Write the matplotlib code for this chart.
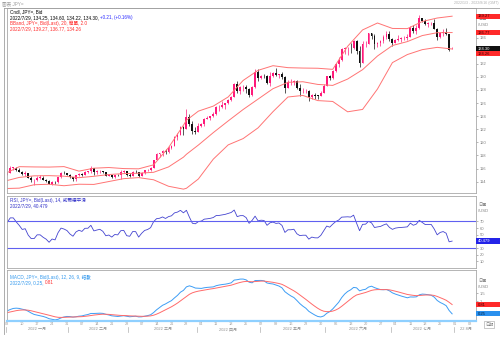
import matplotlib
matplotlib.use("Agg")
import matplotlib.pyplot as plt
from matplotlib.lines import Line2D
from matplotlib.patches import Rectangle
from matplotlib.transforms import blended_transform_factory
import pandas as pd

plt.rcParams["font.family"] = ["Liberation Sans", "Noto Sans CJK TC"]

W, H = 500, 340

# daily candles, 2022-01-03 .. 2022-07-29 (JPY= bid)
dates = pd.bdate_range("2022-01-03", "2022-07-29")
axis_days = pd.bdate_range("2022-01-03", "2022-08-12")

opens = [
    115.08, 115.30, 116.13, 116.13, 115.83, 115.55, 115.19, 115.28, 114.63, 114.18,
    114.19, 114.59, 114.59, 114.32, 114.09, 113.68, 113.99, 113.88, 114.67, 115.35, 115.25,
    115.08, 114.68, 114.41, 114.96, 115.22, 115.08, 115.55, 115.56, 116.03,
    115.43, 115.56, 115.66, 115.45, 114.92, 115.01, 114.76, 115.06, 115.01, 115.52, 115.57,
    114.98, 114.91, 115.48, 115.47, 114.83, 115.30, 115.71, 115.85, 116.14,
    117.31, 118.18, 118.31, 118.74, 118.58, 119.19, 119.48, 120.76, 121.20, 122.34,
    122.05, 123.85, 122.84, 121.77,
    121.66, 122.52, 122.75, 123.60, 123.76, 123.97, 124.31, 125.35, 125.38, 125.64, 125.94,
    126.43, 126.98, 128.89, 127.88, 128.43, 128.46, 128.16, 127.23, 128.40, 130.81,
    129.82, 130.17, 130.12, 129.09, 130.21, 130.56, 130.28, 130.44, 129.96, 128.32,
    129.18, 129.20, 129.36, 128.27, 127.77, 127.87, 127.87, 126.86, 127.31, 127.13, 127.11, 127.61,
    128.68, 130.09, 129.86, 130.88, 131.92, 132.62, 134.25, 134.37, 134.42, 134.38,
    135.46, 133.99, 132.19, 134.99, 135.05, 136.65, 136.25, 134.95, 135.22, 135.45, 136.11, 136.61,
    135.73, 135.21, 135.69, 135.86, 135.92, 136.01, 136.11, 137.41, 137.01, 137.40,
    138.97, 138.56, 138.15, 138.19, 138.19, 137.37, 136.06, 136.69, 136.93, 136.56, 134.25,
]
highs = [
    115.41, 116.35, 116.27, 116.20, 116.04, 115.69, 115.56, 115.38, 114.79, 114.36,
    114.80, 115.06, 114.85, 114.47, 114.18, 114.06, 114.12, 114.70, 115.49, 115.69, 115.40,
    115.20, 114.78, 115.02, 115.40, 115.32, 115.69, 115.70, 116.34, 116.10,
    115.76, 115.80, 115.70, 115.53, 115.14, 115.05, 115.08, 115.20, 115.74, 115.78, 115.62,
    115.26, 115.57, 115.81, 115.50, 115.48, 115.80, 116.01, 116.22, 117.36,
    118.40, 118.45, 118.89, 118.95, 119.41, 119.53, 120.99, 121.41, 122.44, 122.44,
    125.09, 124.31, 123.21, 122.42,
    122.92, 122.94, 123.66, 124.05, 124.08, 124.68, 125.48, 125.77, 126.32, 126.00, 126.68,
    127.06, 129.08, 129.40, 128.68, 128.83, 128.73, 128.27, 128.58, 131.25, 131.19,
    130.32, 130.40, 130.25, 130.78, 130.80, 131.35, 130.45, 130.80, 130.08, 129.50,
    129.75, 129.49, 129.46, 128.95, 128.38, 128.12, 128.05, 127.44, 127.55, 127.30, 127.90, 128.84,
    130.18, 130.25, 130.98, 132.01, 133.00, 134.48, 134.57, 134.55, 135.20, 135.59,
    135.60, 134.68, 135.44, 135.44, 136.72, 136.72, 136.48, 135.35, 135.56, 136.38, 137.00, 137.00,
    135.98, 135.75, 136.38, 136.10, 136.17, 136.55, 137.74, 137.89, 137.87, 139.39,
    139.05, 138.88, 138.39, 138.39, 138.87, 137.49, 136.79, 137.25, 137.46, 136.58, 134.60,
]
lows = [
    115.00, 115.29, 115.78, 115.67, 115.45, 115.07, 114.94, 114.50, 113.95, 113.48,
    114.12, 114.35, 114.20, 113.95, 113.63, 113.47, 113.70, 113.80, 114.60, 115.12, 114.98,
    114.60, 114.17, 114.16, 114.80, 114.85, 115.00, 115.30, 115.40, 115.02,
    115.10, 115.38, 115.27, 114.82, 114.80, 114.59, 114.58, 114.89, 114.41, 115.35, 114.88,
    114.66, 114.86, 115.33, 114.65, 114.79, 115.13, 115.60, 115.60, 116.07,
    117.26, 117.70, 117.86, 118.16, 118.44, 118.97, 119.39, 120.42, 121.14, 121.19,
    122.02, 122.43, 121.30, 121.28,
    121.64, 122.33, 122.44, 123.52, 123.38, 123.92, 124.23, 124.74, 125.20, 125.06, 125.87,
    126.32, 126.93, 127.55, 127.46, 127.90, 127.59, 126.95, 127.05, 128.35, 129.30,
    129.74, 129.84, 128.95, 128.60, 129.93, 130.10, 129.77, 129.69, 127.52, 128.25,
    128.83, 128.83, 128.10, 127.03, 127.51, 127.52, 126.36, 126.57, 126.68, 126.56, 127.02, 127.50,
    128.59, 129.55, 129.68, 130.69, 131.53, 132.45, 133.55, 133.37, 133.60, 134.30,
    133.53, 131.50, 132.07, 134.52, 134.97, 135.71, 134.27, 134.53, 134.68, 135.10, 135.80, 135.52,
    134.75, 135.10, 135.47, 135.33, 135.62, 135.67, 136.04, 136.65, 136.55, 137.38,
    138.38, 137.98, 137.60, 137.94, 137.30, 135.57, 135.94, 136.26, 136.37, 134.02, 134.22,
]
closes = [
    115.30, 116.13, 116.13, 115.83, 115.55, 115.19, 115.28, 114.63, 114.18, 114.19,
    114.59, 114.59, 114.32, 114.09, 113.68, 113.99, 113.88, 114.67, 115.35, 115.25, 115.08,
    114.68, 114.41, 114.96, 115.22, 115.08, 115.55, 115.56, 116.03, 115.43,
    115.56, 115.66, 115.45, 114.92, 115.01, 114.76, 115.06, 115.01, 115.52, 115.57, 114.98,
    114.91, 115.48, 115.47, 114.83, 115.30, 115.71, 115.85, 116.14, 117.31,
    118.18, 118.31, 118.74, 118.58, 119.19, 119.48, 120.76, 121.20, 122.34, 122.05,
    123.85, 122.84, 121.77, 121.66,
    122.52, 122.75, 123.60, 123.76, 123.97, 124.31, 125.35, 125.38, 125.64, 125.94, 126.43,
    126.98, 128.89, 127.88, 128.43, 128.46, 128.16, 127.23, 128.40, 130.81, 129.82,
    130.17, 130.12, 129.09, 130.21, 130.56, 130.28, 130.44, 129.96, 128.32, 129.18,
    129.20, 129.36, 128.27, 127.77, 127.87, 127.87, 126.86, 127.31, 127.13, 127.11, 127.61, 128.68,
    130.09, 129.86, 130.88, 131.92, 132.62, 134.25, 134.37, 134.42, 134.38, 135.46,
    133.99, 132.19, 134.99, 135.05, 136.65, 136.25, 134.95, 135.22, 135.45, 136.11, 136.61, 135.73,
    135.21, 135.69, 135.86, 135.92, 136.01, 136.11, 137.41, 137.01, 137.40, 138.97,
    138.56, 138.15, 138.19, 138.19, 137.37, 136.06, 136.69, 136.93, 136.56, 134.09, 134.30,
]

# Bollinger band (20, 2.0) read roughly once a week
bb_idx = [0, 4, 9, 14, 19, 24, 29, 34, 39, 44, 49, 54, 59, 60, 64, 69, 74, 79, 84, 89,
          94, 99, 104, 109, 114, 119, 124, 129, 134, 139, 144, 149]
bb_upper = [115.40, 116.29, 116.25, 116.23, 116.30, 115.61, 116.06, 116.16, 116.00, 115.96,
            116.57, 119.20, 122.62, 123.37, 124.77, 125.54, 126.94, 129.46, 131.00, 131.71,
            131.41, 131.35, 131.32, 131.15, 134.67, 137.17, 138.23, 137.40, 137.37, 138.46,
            138.99, 139.27]
bb_mid = [114.18, 114.65, 114.89, 114.92, 114.84, 114.61, 114.82, 115.09, 115.23, 115.29,
          115.43, 116.25, 117.74, 118.18, 119.59, 121.49, 123.28, 125.02, 126.61, 128.20,
          129.17, 129.26, 128.85, 128.70, 129.67, 131.10, 133.19, 134.79, 135.39, 136.31,
          136.75, 136.77]
bb_lower = [112.96, 113.01, 113.53, 113.61, 113.38, 113.61, 113.58, 114.02, 114.46, 114.62,
            114.29, 113.30, 112.86, 112.99, 114.41, 117.44, 119.62, 120.58, 122.22, 124.69,
            126.93, 127.17, 126.38, 126.25, 124.67, 125.03, 128.15, 132.18, 133.41, 134.16,
            134.51, 134.26]

rsi = [
    68.9, 75.4, 75.4, 69.3, 64.1, 58.0, 59.1, 49.5, 44.2, 44.3,
    49.9, 49.9, 46.2, 43.4, 38.7, 43.6, 42.3, 53.1, 60.0, 58.6, 56.3,
    51.1, 47.8, 54.2, 56.8, 55.0, 59.7, 59.8, 64.2, 55.8,
    57.1, 58.2, 55.2, 48.5, 49.6, 46.5, 50.4, 49.8, 56.1, 56.6, 48.6,
    47.7, 54.8, 54.7, 46.5, 52.2, 56.5, 57.9, 60.7, 69.6,
    74.2, 74.8, 76.8, 74.5, 77.3, 78.5, 82.9, 84.1, 86.7, 83.0,
    86.8, 76.5, 67.3, 66.5,
    69.8, 70.6, 73.5, 74.0, 74.7, 75.9, 79.0, 79.1, 79.9, 80.7, 82.1,
    83.5, 87.2, 77.3, 78.7, 78.8, 75.8, 67.2, 71.6, 78.0, 70.9,
    71.9, 71.5, 64.2, 68.0, 69.1, 67.1, 67.7, 64.1, 53.5, 57.5,
    57.5, 58.3, 51.5, 48.7, 49.3, 49.3, 43.4, 46.5, 45.4, 45.3, 49.0, 56.0,
    63.1, 61.4, 65.9, 69.8, 72.1, 76.5, 76.8, 77.0, 76.6, 79.5,
    67.4, 56.1, 65.7, 65.9, 70.2, 67.9, 60.9, 61.8, 62.5, 64.7, 66.4, 61.1,
    58.1, 60.0, 60.7, 61.0, 61.4, 61.9, 67.5, 64.3, 66.0, 71.7,
    68.4, 65.3, 65.4, 65.5, 58.7, 49.9, 53.5, 54.8, 52.3, 39.4, 40.48,
]

macd = [
    0.430, 0.515, 0.576, 0.593, 0.577, 0.530, 0.494, 0.408, 0.301, 0.214,
    0.175, 0.142, 0.094, 0.037, -0.042, -0.078, -0.114, -0.078, 0.006, 0.063, 0.094,
    0.085, 0.055, 0.075, 0.110, 0.126, 0.174, 0.210, 0.274, 0.273,
    0.280, 0.290, 0.278, 0.223, 0.184, 0.132, 0.113, 0.093, 0.117, 0.138, 0.107,
    0.075, 0.095, 0.109, 0.067, 0.072, 0.107, 0.144, 0.195, 0.326,
    0.494, 0.631, 0.765, 0.848, 0.953, 1.047, 1.211, 1.361, 1.554, 1.664,
    1.874, 1.937, 1.879, 1.803,
    1.792, 1.782, 1.821, 1.844, 1.857, 1.873, 1.947, 1.986, 2.015, 2.037, 2.071,
    2.118, 2.283, 2.306, 2.342, 2.345, 2.296, 2.158, 2.119, 2.256, 2.259,
    2.263, 2.237, 2.108, 2.072, 2.048, 1.984, 1.924, 1.817, 1.582, 1.448,
    1.328, 1.232, 1.056, 0.866, 0.715, 0.589, 0.403, 0.288, 0.181, 0.093, 0.063, 0.124,
    0.283, 0.386, 0.543, 0.743, 0.947, 1.226, 1.440, 1.596, 1.696, 1.841,
    1.817, 1.634, 1.695, 1.729, 1.863, 1.915, 1.830, 1.765, 1.711, 1.702, 1.716, 1.637,
    1.514, 1.440, 1.379, 1.320, 1.266, 1.217, 1.268, 1.262, 1.274, 1.394,
    1.439, 1.426, 1.402, 1.368, 1.260, 1.057, 0.936, 0.850, 0.743, 0.454, 0.25,
]
signal = [
    0.326, 0.364, 0.406, 0.443, 0.470, 0.482, 0.484, 0.469, 0.435, 0.391,
    0.348, 0.307, 0.264, 0.219, 0.167, 0.118, 0.072, 0.042, 0.035, 0.041, 0.052,
    0.058, 0.057, 0.061, 0.071, 0.082, 0.100, 0.122, 0.152, 0.176,
    0.197, 0.216, 0.228, 0.227, 0.218, 0.201, 0.183, 0.165, 0.155, 0.152, 0.143,
    0.129, 0.122, 0.119, 0.109, 0.102, 0.103, 0.111, 0.128, 0.168,
    0.233, 0.313, 0.403, 0.492, 0.584, 0.677, 0.784, 0.899, 1.030, 1.157,
    1.300, 1.427, 1.517, 1.574,
    1.618, 1.651, 1.685, 1.717, 1.745, 1.771, 1.806, 1.842, 1.877, 1.909, 1.941,
    1.976, 2.037, 2.091, 2.141, 2.182, 2.205, 2.196, 2.181, 2.196, 2.209,
    2.220, 2.223, 2.200, 2.174, 2.149, 2.116, 2.078, 2.026, 1.937, 1.839,
    1.737, 1.636, 1.520, 1.389, 1.254, 1.121, 0.977, 0.839, 0.707, 0.584, 0.480, 0.409,
    0.384, 0.384, 0.416, 0.481, 0.574, 0.704, 0.851, 1.000, 1.139, 1.279,
    1.387, 1.436, 1.488, 1.536, 1.601, 1.664, 1.697, 1.711, 1.711, 1.709, 1.710, 1.695,
    1.659, 1.615, 1.568, 1.518, 1.468, 1.418, 1.388, 1.363, 1.345, 1.355,
    1.372, 1.383, 1.387, 1.383, 1.358, 1.298, 1.226, 1.151, 1.069, 0.946, 0.81,
]

month_names = ["2022 一月", "2022 二月", "2022 三月", "2022 四月",
               "2022 五月", "2022 六月", "2022 七月", "22 8月"]

UP, DOWN = "#ff1a7a", "#111111"
GRAY = "#808080"
XMIN, XMAX = -0.1, 157.0

fig = plt.figure(figsize=(W / 100, H / 100), dpi=100)


def fx(px):
    return px / W


def fy(py):
    return 1 - py / H


def panel(top, bottom):
    return fig.add_axes([fx(7), fy(bottom), fx(476) - fx(7), (bottom - top) / H])


def style(a):
    a.set_xlim(XMIN, XMAX)
    a.set_xticks([])
    a.yaxis.tick_right()
    a.tick_params(axis="y", length=1.5, width=0.4, pad=1, labelsize=3, colors=GRAY)
    for s in a.spines.values():
        s.set_color("#a8a8a8")
        s.set_linewidth(0.6)


ax = panel(8, 193)
ax_rsi = panel(196, 268)
ax_macd = panel(270, 321)
for a in (ax, ax_rsi, ax_macd):
    style(a)

# --- candles + bollinger
x = list(range(len(closes)))
cols = [UP if c >= o else DOWN for o, c in zip(opens, closes)]
ax.vlines(x, lows, highs, colors=cols, lw=0.5)
bottoms = [min(o, c) for o, c in zip(opens, closes)]
heights = [max(abs(c - o), 0.05) for o, c in zip(opens, closes)]
ax.bar(x, heights, bottom=bottoms, width=0.62, color=cols, lw=0)
for band in (bb_upper, bb_mid, bb_lower):
    ax.plot(bb_idx, band, color="#ff7474", lw=0.7)
ax.set_ylim(112.27, 140.52)
# 134 sits under the last-price boxes
ax.set_yticks([114, 116, 118, 120, 122, 124, 126, 128, 130, 132, 136])

# --- RSI
ax_rsi.plot(x, rsi, color="#4444d0", lw=0.6)
for lvl in (70, 30):
    ax_rsi.axhline(lvl, color="#6060f0", lw=0.8)
ax_rsi.set_ylim(0, 108.3)
ax_rsi.set_yticks([10, 20, 30, 50, 60, 70])

# --- MACD
ax_macd.plot(x, macd, color="#3d9df5", lw=0.7)
ax_macd.plot(x, signal, color="#ff6a6a", lw=0.7)
ax_macd.set_ylim(-0.18, 2.89)
ax_macd.set_yticks([1, 1.5])
ax_macd.set_yticklabels(["1", "1.5"])
ax_macd.spines["bottom"].set_color("#8fd0ff")
ax_macd.spines["bottom"].set_linewidth(1.6)


def value_box(a, value, text, fc, tc, shift_px=0):
    y_px = H - a.transData.transform((0, value))[1] + shift_px
    fig.add_artist(Rectangle((fx(476), fy(y_px + 2.6)), fx(500) - fx(476), 5.2 / H,
                             transform=fig.transFigure, fc=fc, ec="none", zorder=5))
    fig.text(fx(477.5), fy(y_px), text, color=tc, fontsize=3, va="center", ha="left",
             zorder=6)


def unit_label(top_px):
    fig.text(fx(478.5), fy(top_px), "日圓", color=GRAY, fontsize=3, va="center")
    fig.text(fx(478.5), fy(top_px + 5.5), "/USD", color=GRAY, fontsize=3, va="center")


unit_label(19.5)
unit_label(205.5)
unit_label(281.5)

value_box(ax, bb_upper[-1], "139.27", "#ff2a2a", "#3a0000")
value_box(ax, bb_mid[-1], "136.77", "#ff2a2a", "#3a0000")
value_box(ax, closes[-1], "134.30", "#111111", "white")
value_box(ax, bb_lower[-1], "134.26", "#ff2a2a", "#3a0000", shift_px=4.8)
value_box(ax_rsi, rsi[-1], "40.479", "#2424e8", "white")
value_box(ax_macd, signal[-1], "0.81", "#ff2a2a", "#3a0000")
value_box(ax_macd, macd[-1], "0.25", "#2a90ee", "#001a33")

# --- legends
renderer = fig.canvas.get_renderer()


def legend_line(y_px, parts, size=3.3):
    xpos = fx(10)
    for s, c in parts:
        t = fig.text(xpos, fy(y_px), s, color=c, fontsize=size, va="center", ha="left")
        xpos += t.get_window_extent(renderer=renderer).width / W


legend_line(11.7, [("Cndl, JPY=, Bid", "#000000")])
legend_line(17.3, [("2022/7/29, 134.25, 134.60, 134.22, 134.30, ", "#000000"),
                   ("+0.21, (+0.16%)", "#2a2aff")])
legend_line(23.0, [("BBand, JPY=, Bid(Last), 20, 簡單, 2.0", "#ff2a2a")])
legend_line(28.7, [("2022/7/29, 139.27, 136.77, 134.26", "#ff2a2a")])
legend_line(200.3, [("RSI, JPY=, Bid(Last), 14, 威爾德平滑", "#3030c8")])
legend_line(205.5, [("2022/7/29, 40.479", "#3030c8")])
legend_line(277.3, [("MACD, JPY=, Bid(Last), 12, 26, 9, 指數", "#3399ee")])
legend_line(282.5, [("2022/7/29, 0.25, ", "#3399ee"), ("0.81", "#ff3030")])

# --- window chrome
fig.text(fx(2), fy(3.2), "圖表 JPY=", color="#a0a0a0", fontsize=3.3, va="center")
fig.text(fx(498), fy(3.2), "2022/1/3 - 2022/8/16 (GMT)", color="#b0b0b0",
         fontsize=2.6, va="center", ha="right")
fig.add_artist(Line2D([fx(3.5), fx(500)], [fy(7.5), fy(7.5)], transform=fig.transFigure,
                      color="#a0a0a0", lw=0.6))
fig.add_artist(Line2D([fx(3.5), fx(3.5)], [fy(7.5), fy(334)], transform=fig.transFigure,
                      color="#a0a0a0", lw=0.6))

# --- date axis under the MACD pane
tr = blended_transform_factory(ax_macd.transData, fig.transFigure)
for i, d in enumerate(axis_days):
    if i <= XMAX and d.weekday() == 0:
        fig.text(i, fy(324.2), d.strftime("%d"), transform=tr, color="#a0a0a0",
                 fontsize=2.8, ha="center", va="center")
months = sorted(set((d.year, d.month) for d in axis_days))
for name, (yy, mm) in zip(month_names, months):
    idx = [i for i, d in enumerate(axis_days) if d.month == mm and i <= XMAX]
    start, end = idx[0], idx[-1]
    fig.text((start + end) / 2, fy(329.3), name, transform=tr, color="#909090",
             fontsize=2.9, ha="center", va="center")
    fig.add_artist(Line2D([start - 0.5, start - 0.5], [fy(326.5), fy(332)], transform=tr,
                          color="#b0b0b0", lw=0.5))

fig.text(fx(489), fy(324.5), "日期", color=GRAY, fontsize=3, ha="center", va="center",
         bbox=dict(boxstyle="square,pad=0.25", fc="white", ec="#a0a0a0", lw=0.4))

fig.savefig("out.png", dpi=100)
